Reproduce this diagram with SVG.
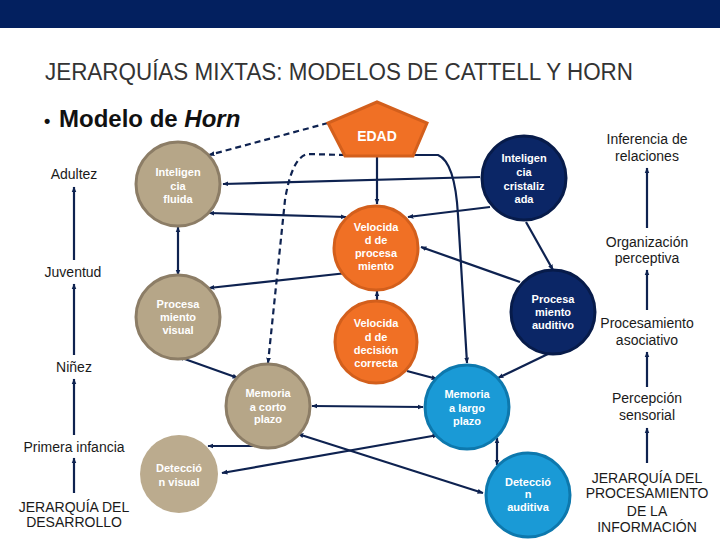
<svg xmlns="http://www.w3.org/2000/svg" width="720" height="540" viewBox="0 0 720 540">
<defs>
<marker id="ah" viewBox="0 0 10 10" refX="9" refY="5" markerWidth="6" markerHeight="6" markerUnits="userSpaceOnUse" orient="auto-start-reverse">
<path d="M0,1 L10,5 L0,9 z" fill="#0e2250"/>
</marker>
<style>
.lbl{font-family:"Liberation Sans",Arial,sans-serif;font-size:14px;fill:#1a1a1a;text-anchor:middle}
.nt{font-family:"Liberation Sans",Arial,sans-serif;font-size:11px;font-weight:bold;fill:#ffffff;text-anchor:middle}
.tan{fill:#b6a688;stroke:#8c7d66;stroke-width:3}
.tan2{fill:#bbab8e}
.org{fill:#f07025;stroke:#d35f1c;stroke-width:3}
.blu{fill:#1a9ad6;stroke:#0d78ad;stroke-width:3}
.nav{fill:#0b2666;stroke:#071b4a;stroke-width:3}
.c{fill:none;stroke:#0e2250;stroke-width:2.2}
.d{stroke-dasharray:6,4}
.e{marker-end:url(#ah)}
.s{marker-start:url(#ah)}
</style>
</defs>
<rect x="0" y="0" width="720" height="28" fill="#03205f"/>
<text x="45" y="80" font-family="'Liberation Sans',Arial,sans-serif" font-size="23" fill="#333333" textLength="588" lengthAdjust="spacingAndGlyphs">JERARQUÍAS MIXTAS: MODELOS DE CATTELL Y HORN</text>
<text x="44" y="127" font-family="'Liberation Sans',Arial,sans-serif" font-size="24" font-weight="bold" fill="#111111"><tspan font-size="18">•</tspan><tspan x="59">Modelo de </tspan><tspan font-style="italic">Horn</tspan></text>

<g id="axis-left">
<text class="lbl" x="74" y="179">Adultez</text>
<text class="lbl" x="73" y="277">Juventud</text>
<text class="lbl" x="74" y="372">Niñez</text>
<text class="lbl" x="74" y="452">Primera infancia</text>
<text class="lbl" x="74" y="512">JERARQUÍA DEL</text>
<text class="lbl" x="74" y="527">DESARROLLO</text>
</g>
<g id="axis-right">
<text class="lbl" x="647" y="144">Inferencia de</text>
<text class="lbl" x="647" y="161">relaciones</text>
<text class="lbl" x="647" y="247">Organización</text>
<text class="lbl" x="647" y="263">perceptiva</text>
<text class="lbl" x="647" y="328">Procesamiento</text>
<text class="lbl" x="647" y="345">asociativo</text>
<text class="lbl" x="647" y="403">Percepción</text>
<text class="lbl" x="647" y="420">sensorial</text>
<text class="lbl" x="647" y="483">JERARQUÍA DEL</text>
<text class="lbl" x="647" y="498">PROCESAMIENTO</text>
<text class="lbl" x="647" y="516">DE LA</text>
<text class="lbl" x="647" y="532">INFORMACIÓN</text>
</g>

<g id="connectors">
<path class="c e" d="M74,260 L74,187"/>
<path class="c e" d="M74,355 L74,284"/>
<path class="c e" d="M74,435 L74,379"/>
<path class="c e" d="M74,493 L74,458"/>
<path class="c e" d="M647,228 L647,168"/>
<path class="c e" d="M647,310 L647,270"/>
<path class="c e" d="M647,387 L647,352"/>
<path class="c e" d="M647,463 L647,428"/>

<path class="c d e" d="M328,123 L209,155"/>
<path class="c d e" d="M345,155 L308,154 C296,156 289,175 285,200 L268,363"/>
<path class="c e" d="M413,155 L438,155 C450,160 456,180 458,215 L467,363"/>
<path class="c e" d="M377,156 L377,204"/>
<path class="c e" d="M480,177 L223,184"/>
<path class="c s e" d="M209,213 L346,217"/>
<path class="c e" d="M490,207 L408,217"/>
<path class="c e" d="M526,222 L553,270"/>
<path class="c s" d="M421,247 L520,282"/>
<path class="c e" d="M347,273 L209,288"/>
<path class="c e" d="M377,302 L377,291"/>
<path class="c s e" d="M178,227 L178,275"/>
<path class="c s e" d="M179,357 L238,378"/>
<path class="c s e" d="M312,406 L423,407"/>
<path class="c e" d="M407,371 L437,379"/>
<path class="c e" d="M550,353 L498,378"/>
<path class="c s e" d="M208,446 L268,446"/>
<path class="c s e" d="M438,435 L222,473"/>
<path class="c s e" d="M298,434 L483,493"/>
<path class="c s e" d="M497,465 L497,438"/>
</g>

<g id="edad">
<path class="org" d="M377,102 L427,123 L413,156 L345,156 L328,123 z"/>
<text x="377" y="141" font-family="'Liberation Sans',Arial,sans-serif" font-size="14" font-weight="bold" fill="#ffffff" text-anchor="middle">EDAD</text>
</g>
<g id="int-fluida">
<circle class="tan" cx="178" cy="184" r="42"/>
<text class="nt" x="178" y="176">Inteligen</text><text class="nt" x="178" y="190">cia</text><text class="nt" x="178" y="203">fluida</text>
</g>
<g id="int-cristalizada">
<circle class="nav" cx="524" cy="178" r="42"/>
<text class="nt" x="524" y="162">Inteligen</text><text class="nt" x="524" y="176">cia</text><text class="nt" x="524" y="190">cristaliz</text><text class="nt" x="524" y="203">ada</text>
</g>
<g id="vel-procesamiento">
<circle class="org" cx="376" cy="248" r="42"/>
<text class="nt" x="376" y="231">Velocida</text><text class="nt" x="376" y="244">d de</text><text class="nt" x="376" y="257">procesa</text><text class="nt" x="376" y="270">miento</text>
</g>
<g id="proc-visual">
<circle class="tan" cx="178" cy="317" r="42"/>
<text class="nt" x="178" y="308">Procesa</text><text class="nt" x="178" y="321">miento</text><text class="nt" x="178" y="334">visual</text>
</g>
<g id="vel-decision">
<circle class="org" cx="376" cy="342" r="41"/>
<text class="nt" x="376" y="327">Velocida</text><text class="nt" x="376" y="341">d de</text><text class="nt" x="376" y="354">decisión</text><text class="nt" x="376" y="367">correcta</text>
</g>
<g id="proc-auditivo">
<circle class="nav" cx="553" cy="312" r="42"/>
<text class="nt" x="553" y="303">Procesa</text><text class="nt" x="553" y="316">miento</text><text class="nt" x="553" y="329">auditivo</text>
</g>
<g id="mem-corto">
<circle class="tan" cx="268" cy="406" r="42"/>
<text class="nt" x="268" y="397">Memoria</text><text class="nt" x="268" y="411">a corto</text><text class="nt" x="268" y="423">plazo</text>
</g>
<g id="mem-largo">
<circle class="blu" cx="467" cy="407" r="42"/>
<text class="nt" x="467" y="398">Memoria</text><text class="nt" x="467" y="412">a largo</text><text class="nt" x="467" y="425">plazo</text>
</g>
<g id="det-visual">
<circle class="tan2" cx="179" cy="474" r="39"/>
<text class="nt" x="179" y="472">Detecció</text><text class="nt" x="179" y="486">n visual</text>
</g>
<g id="det-auditiva">
<circle class="blu" cx="528" cy="495" r="42"/>
<text class="nt" x="528" y="486">Detecció</text><text class="nt" x="528" y="498">n</text><text class="nt" x="528" y="511">auditiva</text>
</g>
</svg>
